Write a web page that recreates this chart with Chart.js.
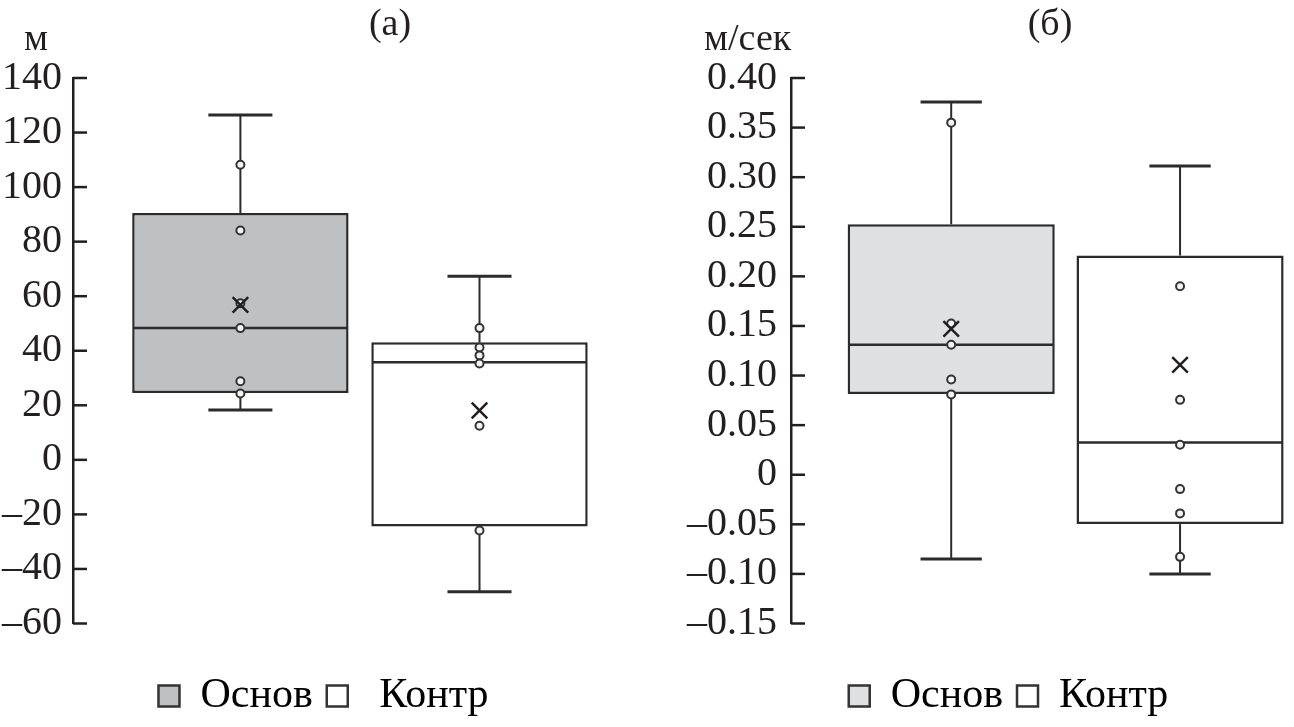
<!DOCTYPE html>
<html>
<head>
<meta charset="utf-8">
<title>Box plots (а) и (б)</title>
<script src="https://cdn.jsdelivr.net/npm/chart.js"></script>
<style>
  html { overflow: hidden; }
  body { margin: 0; background: #fff; width: 1294px; height: 727px; overflow: hidden; position: relative;
         font-family: 'Liberation Serif', 'Times New Roman', serif; color: #231f20; }
  canvas { position: absolute; top: 0; }
  #chartA { left: 0; }
  #chartB { left: 647px; }
  .lbl { position: absolute; font-size: 38px; line-height: 38px; white-space: nowrap; }
</style>
</head>
<body>
<canvas id="chartA" width="647" height="727"></canvas>
<canvas id="chartB" width="723" height="727"></canvas>
<div class="lbl" style="left:24px; top:18px">м</div>
<div class="lbl" style="left:390px; top:3px; transform:translateX(-50%)">(а)</div>
<div class="lbl" style="left:704px; top:18px">м/сек</div>
<div class="lbl" style="left:1050px; top:3px; transform:translateX(-50%)">(б)</div>
<script>
    const categories = ['Основ', 'Контр'];

    // (а) distance, m
    const aMin    = [18.3, -48.4];
    const aQ1     = [24.5, -24.4];
    const aMedian = [48.3, 35.8];
    const aQ3     = [90.5, 43.1];
    const aMax    = [126.4, 67.3];
    const aMean   = [56.8, 18.1];
    const aPoints = [
        [108.2, 84.1, 57.4, 48.3, 28.8, 24.3],
        [48.3, 41.2, 38.3, 35.3, 12.5, -25.9]
    ];
    const aTicks = { min: -60, max: 140, step: 20 };

    // (б) speed, m/s
    const bMin    = [-0.085, -0.100];
    const bQ1     = [0.0815, -0.0498];
    const bMedian = [0.131, 0.0326];
    const bQ3     = [0.2525, 0.221];
    const bMax    = [0.3758, 0.3114];
    const bMean   = [0.147, 0.1108];
    const bPoints = [
        [0.355, 0.1525, 0.131, 0.096, 0.081],
        [0.19, 0.0755, 0.0303, -0.0145, -0.039, -0.0828]
    ];
    const bTicks = { min: -0.15, max: 0.40, step: 0.05 };

    const ink = '#231f20';
    const serif = "'Liberation Serif', 'Times New Roman', serif";
    const dash = '\u2013';

    // whiskers, caps and median lines, drawn right after the boxes
    const whiskerPlugin = {
        id: 'whiskers',
        afterDatasetDraw(chart, args, opts) {
            if (args.index !== 0) return;
            const ctx = chart.ctx;
            const y = chart.scales.y;
            const seg = (x1, y1, x2, y2) => { ctx.beginPath(); ctx.moveTo(x1, y1); ctx.lineTo(x2, y2); ctx.stroke(); };
            ctx.save();
            ctx.strokeStyle = '#2b2b2b';
            args.meta.data.forEach((bar, i) => {
                const cx = bar.x, half = bar.width / 2, cap = bar.width * 0.148;
                const pMin = y.getPixelForValue(opts.min[i]);
                const pQ1 = y.getPixelForValue(opts.q1[i]);
                const pMed = y.getPixelForValue(opts.median[i]);
                const pQ3 = y.getPixelForValue(opts.q3[i]);
                const pMax = y.getPixelForValue(opts.max[i]);
                ctx.lineWidth = 2;
                seg(cx, pQ3, cx, pMax);
                seg(cx, pQ1, cx, pMin);
                ctx.lineWidth = 3;
                seg(cx - cap, pMax, cx + cap, pMax);
                seg(cx - cap, pMin, cx + cap, pMin);
                ctx.lineWidth = 2.5;
                seg(cx - half + 1, pMed, cx + half - 1, pMed);
            });
            ctx.restore();
        }
    };

    // tick marks pointing into the plot
    const innerTicksPlugin = {
        id: 'innerTicks',
        afterDraw(chart) {
            const ctx = chart.ctx;
            const y = chart.scales.y;
            ctx.save();
            ctx.strokeStyle = ink;
            ctx.lineWidth = 2.5;
            y.ticks.forEach(t => {
                const py = y.getPixelForValue(t.value);
                ctx.beginPath();
                ctx.moveTo(y.right, py);
                ctx.lineTo(y.right + 14, py);
                ctx.stroke();
            });
            ctx.restore();
        }
    };

    function makeChart(id, p) {
        const pts = [];
        p.points.forEach((list, i) => list.forEach(v => pts.push({ x: i + 1, y: v })));
        return new Chart(document.getElementById(id), {
            type: 'bar',
            data: {
                datasets: [{
                    data: categories.map((c, i) => ({ x: i + 1, y: [p.q1[i], p.q3[i]] })),
                    backgroundColor: p.fills,
                    borderColor: '#2b2b2b',
                    borderWidth: 2.5,
                    borderSkipped: false,
                    barPercentage: 0.905,
                    categoryPercentage: 1,
                    order: 2
                }, {
                    type: 'scatter',
                    data: pts,
                    pointStyle: 'circle',
                    pointRadius: 4,
                    pointBorderWidth: 2,
                    pointBorderColor: '#333',
                    pointBackgroundColor: '#f4f4f4',
                    order: 1
                }, {
                    type: 'scatter',
                    data: p.mean.map((v, i) => ({ x: i + 1, y: v })),
                    pointStyle: 'crossRot',
                    pointRadius: 11,
                    pointBorderWidth: 2.5,
                    pointBorderColor: ink,
                    order: 0
                }]
            },
            options: {
                responsive: false,
                animation: false,
                events: [],
                layout: { padding: { top: 78, left: 0, right: 0, bottom: 0 } },
                scales: {
                    x: {
                        type: 'linear',
                        min: 0.3,
                        max: p.xMax,
                        offset: false,
                        grid: { display: false },
                        border: { display: false },
                        ticks: { display: false },
                        afterBuildTicks: s => { s.ticks = categories.map((c, i) => ({ value: i + 1 })); },
                        afterFit: s => { s.height = 37.5; }
                    },
                    y: {
                        min: p.ticks.min,
                        max: p.ticks.max,
                        ticks: {
                            stepSize: p.ticks.step,
                            autoSkip: false,
                            padding: p.tickPad,
                            color: ink,
                            font: { family: serif, size: 40, lineHeight: 1 },
                            callback: p.format
                        },
                        grid: { display: false, drawTicks: false },
                        border: { color: ink, width: 2.5 },
                        afterFit: s => { s.width = p.axisWidth; }
                    }
                },
                plugins: {
                    tooltip: { enabled: false },
                    whiskers: { min: p.min, q1: p.q1, median: p.median, q3: p.q3, max: p.max },
                    legend: {
                        position: 'bottom',
                        labels: {
                            boxWidth: 21,
                            boxHeight: 21,
                            padding: 14,
                            color: ink,
                            font: { family: serif, size: 42 },
                            generateLabels: () => categories.map((c, i) => ({
                                text: p.legendText[i],
                                fillStyle: p.fills[i],
                                strokeStyle: '#333',
                                lineWidth: 2.5,
                                hidden: false,
                                datasetIndex: 0
                            }))
                        }
                    }
                }
            },
            plugins: [whiskerPlugin, innerTicksPlugin]
        });
    }

    makeChart('chartA', {
        min: aMin, q1: aQ1, median: aMedian, q3: aQ3, max: aMax, mean: aMean, points: aPoints,
        ticks: aTicks, fills: ['#bfc0c2', '#ffffff'], legendText: ['Основ', ' Контр'],
        xMax: 2.644, axisWidth: 73, tickPad: 11,
        format: v => (v < 0 ? dash : '') + Math.abs(v)
    });

    makeChart('chartB', {
        min: bMin, q1: bQ1, median: bMedian, q3: bQ3, max: bMax, mean: bMean, points: bPoints,
        ticks: bTicks, fills: ['#dfe0e2', '#ffffff'], legendText: ['Основ', 'Контр'],
        xMax: 2.771, axisWidth: 144, tickPad: 14,
        format: v => Math.abs(v) < 1e-9 ? '0' : (v < 0 ? dash : '') + Math.abs(v).toFixed(2)
    });
</script>
</body>
</html>
